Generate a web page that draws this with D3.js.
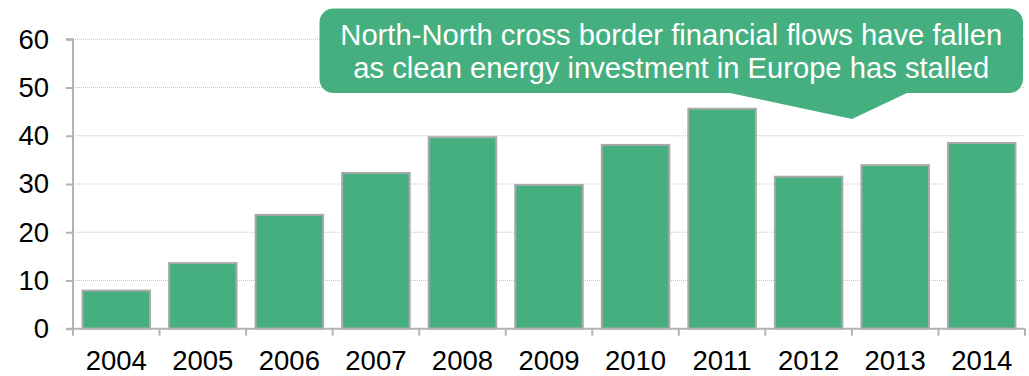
<!DOCTYPE html>
<html>
<head>
<meta charset="utf-8">
<script src="https://cdn.jsdelivr.net/npm/d3@7"></script>
<style>
  html, body { margin: 0; padding: 0; background: #fff; }
  svg { display: block; font-family: "Liberation Sans", Arial, sans-serif; }
</style>
</head>
<body>
<svg id="chart" width="1029" height="376"></svg>
<script>
// Annual flows, 2004-2014
const years = ["2004", "2005", "2006", "2007", "2008", "2009", "2010", "2011", "2012", "2013", "2014"];
const values = [7.9, 13.6, 23.6, 32.3, 39.7, 29.8, 38.1, 45.6, 31.5, 33.9, 38.5];
const yTicks = [0, 10, 20, 30, 40, 50, 60];
const calloutLines = [
  "North-North cross border financial flows have fallen",
  "as clean energy investment in Europe has stalled"
];

(function draw() {
  const svg = d3.select("#chart");
  const plotLeft = 73, plotRight = 1025, plotTop = 39.3, plotBottom = 328.7;
  const green = "#46af7f";
  const axisFont = 27.5;

  const x = d3.scaleBand().domain(years).range([plotLeft, plotRight]).padding(0);
  const y = d3.scaleLinear().domain([0, 60]).range([plotBottom, plotTop]);

  // gridlines
  svg.append("g")
    .selectAll("line")
    .data(yTicks.filter(t => t > 0))
    .join("line")
    .attr("x1", plotLeft).attr("x2", plotRight)
    .attr("y1", d => y(d)).attr("y2", d => y(d))
    .attr("stroke", "#c4c4c4")
    .attr("stroke-width", 1)
    .attr("stroke-dasharray", "1,1");

  // bars
  const step = x.step();
  const barW = step * 0.78;
  svg.append("g")
    .selectAll("rect")
    .data(years.map((yr, i) => ({ yr, v: values[i] })))
    .join("rect")
    .attr("x", d => x(d.yr) + (step - barW) / 2)
    .attr("width", barW)
    .attr("y", d => y(d.v))
    .attr("height", d => y(0) - y(d.v))
    .attr("fill", green)
    .attr("stroke", "#a9a9a9")
    .attr("stroke-width", 2);

  // y axis
  const yAxis = svg.append("g")
    .attr("transform", `translate(${plotLeft},0)`)
    .call(d3.axisLeft(y).tickValues(yTicks).tickSize(7).tickPadding(17).tickFormat(d3.format("d")));
  yAxis.select(".domain").attr("stroke", "#b3b3b3").attr("stroke-width", 2)
    .attr("d", `M-7,${plotTop}H0V${plotBottom}`);
  yAxis.selectAll(".tick line").attr("stroke", "#b3b3b3").attr("stroke-width", 2);
  yAxis.selectAll(".tick text").attr("font-size", axisFont).attr("fill", "#000")
    .attr("font-family", "'Liberation Sans', Arial, sans-serif");

  // x axis: ticks at category boundaries
  const xg = svg.append("g");
  xg.append("line")
    .attr("x1", plotLeft - 7).attr("x2", plotRight)
    .attr("y1", plotBottom).attr("y2", plotBottom)
    .attr("stroke", "#b3b3b3").attr("stroke-width", 2);
  xg.selectAll("line.tk")
    .data(years.concat(["end"]))
    .join("line")
    .attr("class", "tk")
    .attr("x1", (d, i) => plotLeft + i * step).attr("x2", (d, i) => plotLeft + i * step)
    .attr("y1", plotBottom).attr("y2", plotBottom + 7)
    .attr("stroke", "#b3b3b3").attr("stroke-width", 2);
  xg.selectAll("text")
    .data(years)
    .join("text")
    .attr("x", d => x(d) + step / 2)
    .attr("y", 370)
    .attr("text-anchor", "middle")
    .attr("font-size", axisFont)
    .attr("fill", "#000")
    .text(d => d);

  // callout with pointer
  const cx0 = 319.5, cx1 = 1023, cy0 = 8.5, cy1 = 93, r = 14;
  const p1 = 730, p2 = 907, tipX = 852, tipY = 119;
  const path = d3.path();
  path.moveTo(cx0 + r, cy0);
  path.lineTo(cx1 - r, cy0);
  path.arcTo(cx1, cy0, cx1, cy0 + r, r);
  path.lineTo(cx1, cy1 - r);
  path.arcTo(cx1, cy1, cx1 - r, cy1, r);
  path.lineTo(p2, cy1);
  path.lineTo(tipX, tipY);
  path.lineTo(p1, cy1);
  path.lineTo(cx0 + r, cy1);
  path.arcTo(cx0, cy1, cx0, cy1 - r, r);
  path.lineTo(cx0, cy0 + r);
  path.arcTo(cx0, cy0, cx0 + r, cy0, r);
  path.closePath();
  svg.append("path").attr("d", path.toString()).attr("fill", green);

  svg.append("g")
    .selectAll("text")
    .data(calloutLines)
    .join("text")
    .attr("x", (cx0 + cx1) / 2)
    .attr("y", (d, i) => 45 + i * 33)
    .attr("text-anchor", "middle")
    .attr("font-size", 29.2)
    .attr("fill", "#fff")
    .text(d => d);
})();
</script>
</body>
</html>
